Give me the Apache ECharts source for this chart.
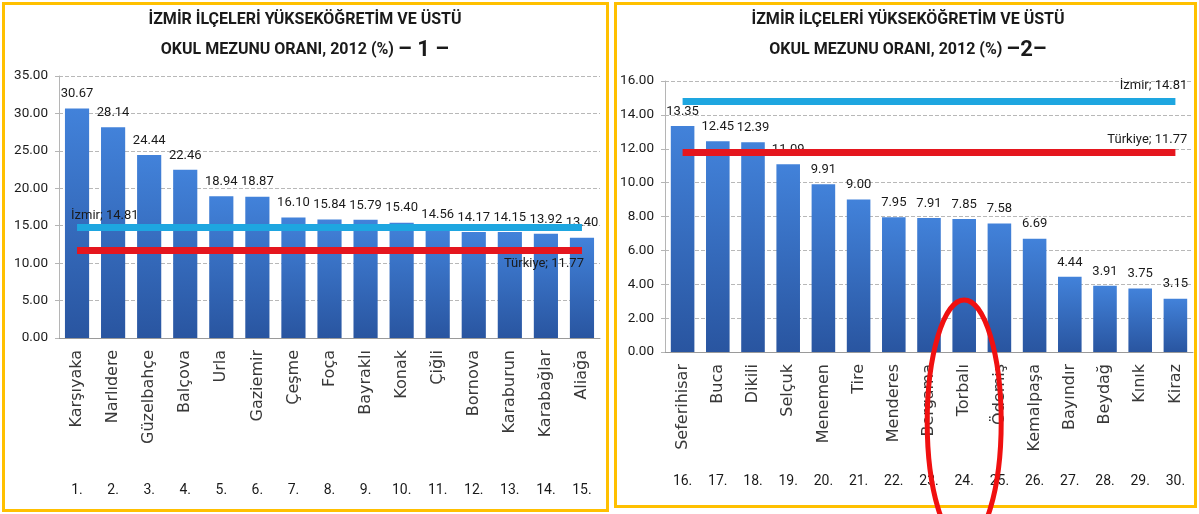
<!DOCTYPE html>
<html>
<head>
<meta charset="utf-8">
<script src="https://cdn.jsdelivr.net/npm/echarts@6/dist/echarts.min.js"></script>
<style>
  html, body { margin: 0; padding: 0; background: #fff; }
  #main { width: 1199px; height: 514px; }
</style>
</head>
<body>
<div id="main"></div>
<script>
  // ilçe verileri, 2012 (%)
  var cats1 = ['Karşıyaka', 'Narlıdere', 'Güzelbahçe', 'Balçova', 'Urla', 'Gaziemir', 'Çeşme', 'Foça',
    'Bayraklı', 'Konak', 'Çiğli', 'Bornova', 'Karaburun', 'Karabağlar', 'Aliağa']
  var vals1 = [30.67, 28.14, 24.44, 22.46, 18.94, 18.87, 16.10, 15.84, 15.79, 15.40, 14.56, 14.17, 14.15, 13.92, 13.40]
  var ranks1 = ['1.', '2.', '3.', '4.', '5.', '6.', '7.', '8.', '9.', '10.', '11.', '12.', '13.', '14.', '15.']

  var cats2 = ['Seferihisar', 'Buca', 'Dikili', 'Selçuk', 'Menemen', 'Tire', 'Menderes', 'Bergama',
    'Torbalı', 'Ödemiş', 'Kemalpaşa', 'Bayındır', 'Beydağ', 'Kınık', 'Kiraz']
  var vals2 = [13.35, 12.45, 12.39, 11.09, 9.91, 9.00, 7.95, 7.91, 7.85, 7.58, 6.69, 4.44, 3.91, 3.75, 3.15]
  var ranks2 = ['16.', '17.', '18.', '19.', '20.', '21.', '22.', '23.', '24.', '25.', '26.', '27.', '28.', '29.', '30.']

  var izmir = 14.81
  var turkiye = 11.77

  var titleTop = 'İZMİR İLÇELERİ YÜKSEKÖĞRETİM VE ÜSTÜ'
  var titleSub = 'OKUL MEZUNU ORANI, 2012 (%) '

  var NARROW = 'Roboto, "Liberation Sans", sans-serif'
  var WIDE = '"DejaVu Sans", Verdana, sans-serif'

  var barColor = {
    type: 'linear', x: 0, y: 0, x2: 0, y2: 1,
    colorStops: [{offset: 0, color: '#4282da'}, {offset: 1, color: '#2955a0'}]
  }

  function titleOpt(x, tag) {
    return {
      left: x, top: 5, textAlign: 'center', padding: 0,
      text: '{a|' + titleTop + '}\n{a|' + titleSub + '}{b|' + tag + '}',
      textStyle: {
        rich: {
          a: {fontFamily: NARROW, fontWeight: 'bold', fontSize: 16, lineHeight: 30, color: '#1a1a1a'},
          b: {fontFamily: NARROW, fontWeight: 'bold', fontSize: 22, lineHeight: 30, color: '#1a1a1a'}
        }
      }
    }
  }

  function xNames(grid, data, tickLen) {
    return {
      gridIndex: grid, type: 'category', data: data,
      axisLine: {lineStyle: {color: '#9a9a9a'}},
      axisTick: {length: tickLen, lineStyle: {color: '#c8c8c8'}},
      axisLabel: {interval: 0, rotate: 90, margin: 12, fontFamily: WIDE, fontSize: 16, color: '#383838'}
    }
  }

  function xRanks(grid, data, off) {
    return {
      gridIndex: grid, type: 'category', data: data, position: 'bottom', offset: off,
      axisLine: {show: false}, axisTick: {show: false},
      axisLabel: {interval: 0, margin: 8, fontFamily: NARROW, fontSize: 14, color: '#1a1a1a'}
    }
  }

  function yAxis(grid, max, step) {
    return {
      gridIndex: grid, type: 'value', min: 0, max: max, interval: step,
      axisLine: {show: true, lineStyle: {color: '#b5b5b5'}},
      axisTick: {show: true, length: 4, lineStyle: {color: '#b5b5b5'}},
      axisLabel: {margin: 11, formatter: function (v) { return v.toFixed(2) }, fontFamily: NARROW, fontSize: 13.5, color: '#1a1a1a'},
      splitLine: {lineStyle: {type: 'dashed', color: '#b8b8b8'}}
    }
  }

  function barSeries(idx, data) {
    return {
      type: 'bar', xAxisIndex: idx * 2, yAxisIndex: idx, data: data, barCategoryGap: '33%',
      itemStyle: {color: barColor},
      label: {
        show: true, position: 'top', distance: 8,
        formatter: function (p) { return p.value.toFixed(2) },
        fontFamily: NARROW, fontSize: 13, color: '#1a1a1a'
      }
    }
  }

  function refLine(idx, cats, value, name, color, pos, dist) {
    return {
      type: 'line', xAxisIndex: idx * 2, yAxisIndex: idx, data: [], z: 5,
      markLine: {
        silent: true, symbol: 'none',
        lineStyle: {color: color, width: 7, type: 'solid'},
        label: {
          position: pos, distance: dist, formatter: name + '; ' + value.toFixed(2),
          fontFamily: NARROW, fontSize: 13, color: '#1a1a1a'
        },
        data: [[{coord: [0, value]}, {coord: [cats.length - 1, value]}]]
      }
    }
  }

  var chart = echarts.init(document.getElementById('main'))
  chart.setOption({
    animation: false,
    title: [titleOpt(305, '– 1 –'), titleOpt(908, '–2–')],
    grid: [
      {left: 59, top: 76, width: 541, height: 262},
      {left: 665, top: 81, width: 528, height: 271}
    ],
    xAxis: [
      xNames(0, cats1, 160), xRanks(0, ranks1, 137),
      xNames(1, cats2, 145), xRanks(1, ranks2, 114)
    ],
    yAxis: [yAxis(0, 35, 5), yAxis(1, 16, 2)],
    series: [
      barSeries(0, vals1),
      refLine(0, cats1, izmir, 'İzmir', '#1ea6e0', 'insideStartTop', [-6, 5]),
      refLine(0, cats1, turkiye, 'Türkiye', '#e5161e', 'insideEndBottom', [-2, 7]),
      barSeries(1, vals2),
      refLine(1, cats2, izmir, 'İzmir', '#1ea6e0', 'insideEndTop', [-12, 9]),
      refLine(1, cats2, turkiye, 'Türkiye', '#e5161e', 'insideEndTop', [-12, 6])
    ]
  })

  // panel çerçeveleri ve Torbalı işareti
  var mark = chart.convertToPixel({xAxisIndex: 2, yAxisIndex: 1}, ['Torbalı', 0])
  chart.setOption({
    graphic: [
      {type: 'rect', shape: {x: 3.5, y: 3.5, width: 604, height: 507}, style: {fill: 'none', stroke: '#ffc000', lineWidth: 3}, silent: true},
      {type: 'rect', shape: {x: 615.5, y: 3.5, width: 580, height: 503}, style: {fill: 'none', stroke: '#ffc000', lineWidth: 3}, silent: true},
      {type: 'ellipse', shape: {cx: mark[0], cy: mark[1] + 70, rx: 37, ry: 122}, style: {fill: 'none', stroke: '#f01010', lineWidth: 5}, z: 100, silent: true}
    ]
  })
</script>
</body>
</html>
